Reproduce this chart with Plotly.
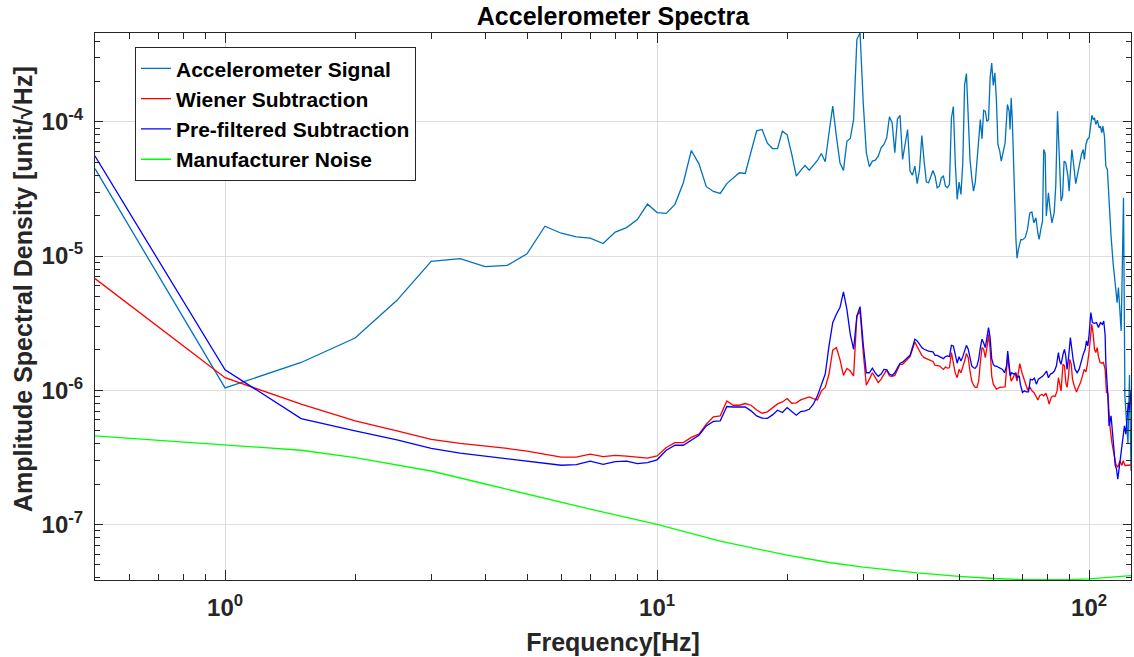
import numpy as np
import plotly.graph_objects as go

# ---------------- data ----------------
acc_f = [0.5, 1, 1.5, 2, 2.5, 3, 3.5, 4, 4.5, 5, 5.5, 6, 6.5, 7, 7.5, 8, 8.5, 9, 9.5, 10,
         10.5, 11, 11.5, 12, 12.5, 13, 13.5, 14, 14.5, 15, 15.5, 16, 16.5, 17, 17.5, 18, 18.5, 19, 19.5, 20,
         20.5, 21, 21.5, 22, 22.5, 23, 23.5, 24, 24.5, 25, 25.5, 26, 26.5, 27, 27.5, 28, 28.5, 29, 29.5, 30,
         30.5, 31, 31.5, 32, 32.5, 33, 33.5, 34, 34.5, 35, 35.5, 36, 36.5, 37, 37.5, 38, 38.5, 39, 39.5, 40,
         40.5, 41, 41.5, 42, 42.5, 43, 43.5, 44, 44.5, 45, 45.5, 46, 46.5, 47, 47.5, 48, 48.5, 49, 49.5, 50,
         50.5, 51, 51.5, 52, 52.5, 53, 53.5, 54, 54.5, 55, 55.5, 56, 56.5, 57, 57.5, 58, 58.5, 59, 59.5, 60,
         60.5, 61, 61.5, 62.1, 62.6, 63.2, 63.9, 64.7, 65.3, 65.6, 66.0, 66.4, 67.1, 67.7, 68.1, 68.6, 69.5,
         70.1, 71.1, 72.0, 72.9, 73.7, 74.5, 75.3, 76.1, 76.6, 77.3, 78.0, 78.5, 79.1, 79.6, 80.5, 81.2, 82.0,
         83.0, 83.7, 84.5, 85.2, 86.1, 86.8, 87.5, 88.3, 89.3, 89.9, 90.5, 91.2, 91.8, 92.5, 93.1, 94.2, 95.2,
         96.0, 96.9, 97.5, 98.3, 99.1, 100.0, 100.7, 101.5, 102.2, 102.9, 103.6, 104.5, 105.5, 106.2, 107.0,
         107.6, 108.5, 109.3, 110.2, 111.2, 112.4, 113.6, 114.9, 116.1, 116.9, 117.8, 118.6, 119.4, 120.1,
         121.0, 122.0, 123.0, 124.0, 125.0]
acc_v = [4.48e-5, 1.04e-6, 1.61e-6, 2.45e-6, 4.68e-6, 9.14e-6, 9.57e-6, 8.34e-6, 8.53e-6, 1.04e-5,
         1.67e-5, 1.48e-5, 1.39e-5, 1.36e-5, 1.24e-5, 1.51e-5, 1.63e-5, 1.87e-5, 2.44e-5, 2.11e-5,
         2.08e-5, 2.43e-5, 3.52e-5, 6.12e-5, 4.87e-5, 3.29e-5, 3.03e-5, 2.93e-5, 3.47e-5, 3.79e-5,
         4.18e-5, 4.13e-5, 6.05e-5, 8.59e-5, 8.78e-5, 6.94e-5, 6.33e-5, 6.33e-5, 8.53e-5, 8.02e-5,
         5.72e-5, 3.94e-5, 4.35e-5, 4.73e-5, 4.37e-5, 4.73e-5, 5.16e-5, 5.82e-5, 5.05e-5, 8.30e-5,
         1.31e-4, 7.83e-5, 4.95e-5, 4.35e-5, 7.18e-5, 7.52e-5, 1.04e-4, 4.11e-4, 4.60e-4, 1.39e-4,
         5.91e-5, 4.64e-5, 5.10e-5, 5.19e-5, 5.56e-5, 6.41e-5, 6.79e-5, 7.62e-5, 1.09e-4, 9.84e-5,
         5.89e-5, 1.05e-4, 1.12e-4, 5.25e-5, 6.79e-5, 8.78e-5, 4.30e-5, 4.01e-5, 4.68e-5, 3.47e-5,
         4.42e-5, 7.92e-5, 5.10e-5, 3.56e-5, 3.52e-5, 3.94e-5, 4.35e-5, 3.94e-5, 3.23e-5, 3.32e-5,
         3.84e-5, 3.94e-5, 3.32e-5, 3.23e-5, 3.42e-5, 1.07e-4, 1.30e-4, 4.95e-5, 2.64e-5, 3.56e-5,
         2.88e-5, 4.95e-5, 1.90e-4, 2.29e-4, 1.17e-4, 5.25e-5, 3.84e-5, 3.05e-5, 3.52e-5, 5.25e-5,
         7.83e-5, 1.04e-4, 7.48e-5, 1.22e-4, 1.20e-4, 1.01e-4, 1.04e-4, 2.13e-4, 2.75e-4, 1.87e-4,
         2.32e-4, 1.47e-4, 6.79e-5, 6.05e-5, 5.10e-5, 5.89e-5, 6.98e-5, 1.35e-4, 1.20e-4, 8.78e-5,
         1.51e-4, 1.04e-4, 3.14e-5, 1.33e-5, 9.66e-6, 1.12e-5, 1.33e-5, 1.32e-5, 1.37e-5, 1.58e-5,
         2.10e-5, 2.13e-5, 1.77e-5, 1.93e-5, 1.48e-5, 1.33e-5, 1.58e-5, 1.82e-5, 6.22e-5, 5.82e-5,
         1.99e-5, 2.96e-5, 2.23e-5, 1.77e-5, 2.10e-5, 3.32e-5, 1.20e-4, 5.56e-5, 2.57e-5, 2.80e-5,
         5.10e-5, 4.95e-5, 3.94e-5, 3.05e-5, 4.42e-5, 6.22e-5, 5.25e-5, 3.94e-5, 3.47e-5, 4.18e-5,
         4.95e-5, 5.72e-5, 6.22e-5, 5.25e-5, 6.79e-5, 7.40e-5, 7.62e-5, 9.29e-5, 1.12e-4, 1.04e-4,
         1.07e-4, 9.57e-5, 1.03e-4, 9.03e-5, 9.29e-5, 8.30e-5, 9.29e-5, 7.83e-5, 4.68e-5, 4.42e-5,
         2.36e-5, 1.41e-5, 8.93e-6, 6.34e-6, 4.50e-6, 5.82e-6, 4.01e-6, 2.77e-6, 8.93e-6, 2.72e-5,
         9.0e-7, 5.5e-7, 4.0e-7, 1.3e-6, 2.5e-7]

low_f = [0.5, 1, 1.5, 2, 2.5, 3, 3.5, 4, 4.5, 5, 5.5, 6, 6.5, 7, 7.5, 8, 8.5, 9, 9.5, 10,
         10.5, 11, 11.5, 12, 12.5, 13, 13.5, 14, 14.5, 15, 15.5, 16, 16.5, 17, 17.5, 18, 18.5, 19, 19.5, 20,
         20.5, 21, 21.5, 22, 22.5, 23, 23.5, 24, 24.5, 25, 25.5, 26, 26.5, 27, 27.5, 28, 28.5, 29, 29.5, 30,
         30.5, 31, 31.5, 32, 32.5, 33, 33.5, 34, 34.5, 35, 35.5, 36, 36.5, 37, 37.5, 38, 38.5, 39, 39.5, 40,
         40.5, 41, 41.5, 42, 42.5, 43.5, 44, 44.5, 45, 46, 46.5, 47, 47.5, 48, 48.5, 49, 49.5, 50,
         50.5, 51, 51.5, 52, 52.5, 53, 53.5, 54, 54.5, 55, 55.5, 56, 56.5, 57, 57.5, 58, 58.5, 59, 59.5, 60,
         60.5, 61]

wiener_v_low = [6.79e-6, 1.24e-6, 7.87e-7, 5.91e-7, 4.97e-7, 4.31e-7, 4.01e-7, 3.85e-7, 3.68e-7, 3.52e-7,
                3.34e-7, 3.17e-7, 3.17e-7, 3.34e-7, 3.20e-7, 3.27e-7, 3.23e-7, 3.17e-7, 3.12e-7, 3.24e-7,
                3.74e-7, 4.07e-7, 4.07e-7, 4.45e-7, 4.70e-7, 5.58e-7, 6.33e-7, 6.44e-7, 8.32e-7, 7.73e-7,
                7.73e-7, 7.96e-7, 7.73e-7, 7.13e-7, 6.74e-7, 6.90e-7, 7.43e-7, 7.91e-7, 8.18e-7, 8.67e-7,
                8.00e-7, 8.05e-7, 8.47e-7, 8.71e-7, 8.91e-7, 8.67e-7, 8.47e-7, 9.89e-7, 1.05e-6, 1.32e-6,
                1.99e-6, 2.08e-6, 1.70e-6, 1.29e-6, 1.45e-6, 1.39e-6, 1.28e-6, 3.57e-6, 3.89e-6, 1.91e-6,
                1.09e-6, 1.21e-6, 1.35e-6, 1.24e-6, 1.14e-6, 1.21e-6, 1.32e-6, 1.42e-6, 1.28e-6, 1.27e-6,
                1.29e-6, 1.43e-6, 1.56e-6, 1.56e-6, 1.64e-6, 1.70e-6, 1.78e-6, 2.02e-6, 2.29e-6, 2.11e-6,
                1.96e-6, 1.82e-6, 1.75e-6, 1.72e-6, 1.68e-6, 1.64e-6, 1.53e-6, 1.52e-6, 1.52e-6, 1.43e-6,
                1.49e-6, 1.46e-6, 1.47e-6, 1.91e-6, 1.61e-6, 1.34e-6, 1.24e-6, 1.43e-6,
                1.35e-6, 1.47e-6, 1.65e-6, 1.88e-6, 1.75e-6, 1.39e-6, 1.17e-6, 1.09e-6, 1.05e-6, 1.05e-6,
                1.17e-6, 1.61e-6, 2.08e-6, 2.02e-6, 1.75e-6, 2.08e-6, 2.61e-6, 2.02e-6, 1.28e-6, 1.11e-6,
                1.05e-6, 1.02e-6]

prefilt_v_low = [5.56e-5, 1.42e-6, 6.15e-7, 4.97e-7, 4.27e-7, 3.68e-7, 3.40e-7, 3.23e-7, 3.09e-7, 2.99e-7,
                 2.86e-7, 2.76e-7, 2.79e-7, 2.96e-7, 2.80e-7, 2.94e-7, 2.96e-7, 2.84e-7, 2.89e-7, 3.03e-7,
                 3.57e-7, 3.89e-7, 3.89e-7, 4.27e-7, 4.62e-7, 5.42e-7, 5.85e-7, 5.91e-7, 7.56e-7, 7.50e-7,
                 7.50e-7, 7.50e-7, 7.02e-7, 6.44e-7, 6.19e-7, 6.17e-7, 6.55e-7, 7.10e-7, 6.82e-7, 7.43e-7,
                 6.93e-7, 6.51e-7, 6.93e-7, 7.02e-7, 7.21e-7, 7.87e-7, 9.08e-7, 1.08e-6, 1.32e-6, 2.14e-6,
                 3.19e-6, 3.68e-6, 4.13e-6, 5.40e-6, 4.01e-6, 2.61e-6, 2.02e-6, 3.57e-6, 4.20e-6, 2.20e-6,
                 1.35e-6, 1.35e-6, 1.46e-6, 1.34e-6, 1.27e-6, 1.32e-6, 1.43e-6, 1.42e-6, 1.32e-6, 1.29e-6,
                 1.35e-6, 1.47e-6, 1.59e-6, 1.62e-6, 1.68e-6, 1.75e-6, 1.82e-6, 2.08e-6, 2.40e-6, 2.33e-6,
                 2.20e-6, 2.08e-6, 2.02e-6, 1.99e-6, 1.96e-6, 1.93e-6, 1.82e-6, 1.82e-6, 1.78e-6, 1.72e-6,
                 1.78e-6, 1.80e-6, 1.78e-6, 2.16e-6, 2.14e-6, 1.80e-6, 1.59e-6, 1.78e-6,
                 1.65e-6, 1.78e-6, 1.96e-6, 2.16e-6, 2.02e-6, 1.75e-6, 1.52e-6, 1.47e-6, 1.46e-6, 1.52e-6,
                 1.70e-6, 2.08e-6, 2.40e-6, 2.25e-6, 2.08e-6, 2.47e-6, 2.93e-6, 2.47e-6, 1.72e-6, 1.56e-6,
                 1.51e-6, 1.51e-6]

wiener_f_high = [62.1, 63.0, 63.9, 64.4, 64.8, 65.3, 66.0, 66.7, 67.4, 68.1, 69.1, 69.9, 70.6, 71.4, 72.1,
                 72.9, 73.7, 74.5, 75.3, 76.1, 76.9, 77.7, 78.5, 79.4, 80.2, 80.8, 81.7, 82.5, 83.4, 84.3,
                 84.9, 85.5, 86.1, 87.0, 87.7, 88.3, 88.9, 89.6, 90.2, 90.9, 91.5, 92.5, 93.5, 94.4, 95.5,
                 96.5, 97.4, 98.3, 99.1, 100.0, 100.7, 101.4, 102.2, 102.9, 103.6, 104.4, 105.1, 106.0, 107.0,
                 107.9, 108.9, 109.7, 110.5, 111.7, 112.9, 114.1, 115.3, 116.5, 117.8, 119.1, 119.9, 121.1,
                 123.8, 125.0]
wiener_v_high = [1.05e-6, 1.05e-6, 1.06e-6, 1.43e-6, 1.82e-6, 1.43e-6, 1.17e-6, 1.24e-6, 1.35e-6, 1.17e-6,
                 1.58e-6, 1.35e-6, 1.24e-6, 1.11e-6, 1.00e-6, 1.06e-6, 9.89e-7, 9.62e-7, 9.08e-7, 8.47e-7,
                 9.15e-7, 9.30e-7, 9.08e-7, 9.50e-7, 8.67e-7, 7.87e-7, 8.83e-7, 9.08e-7, 9.00e-7, 9.89e-7,
                 1.24e-6, 1.08e-6, 9.89e-7, 1.56e-6, 1.52e-6, 1.14e-6, 1.05e-6, 1.28e-6, 1.70e-6, 1.56e-6,
                 1.21e-6, 1.06e-6, 9.71e-7, 1.05e-6, 1.14e-6, 1.28e-6, 1.43e-6, 1.37e-6, 1.56e-6, 1.96e-6,
                 2.69e-6, 3.10e-6, 2.61e-6, 2.02e-6, 1.91e-6, 2.08e-6, 1.78e-6, 1.61e-6, 1.59e-6, 1.61e-6,
                 1.43e-6, 9.62e-7, 9.50e-7, 5.42e-7, 4.07e-7, 3.48e-7, 2.81e-7, 2.66e-7, 2.98e-7, 2.75e-7,
                 2.98e-7, 2.75e-7, 2.75e-7, 2.77e-7]

prefilt_f_high = [62.1, 63.0, 63.7, 64.4, 64.8, 65.3, 65.7, 66.2, 66.9, 67.7, 68.1, 68.9, 69.3, 70.1, 70.8,
                  71.6, 72.4, 73.1, 73.9, 74.7, 75.5, 76.3, 77.2, 78.0, 78.8, 79.7, 80.5, 81.4, 82.2, 83.1,
                  84.0, 84.9, 85.5, 86.1, 87.0, 87.7, 88.3, 88.9, 89.6, 90.5, 91.2, 91.8, 92.8, 93.8, 94.8,
                  95.8, 96.9, 97.9, 98.6, 99.3, 100.0, 100.9, 101.8, 102.9, 104.0, 105.1, 106.2, 107.3, 108.1,
                  108.9, 109.3, 110.5, 111.2, 112.4, 113.2, 114.1, 114.9, 115.7, 116.5, 117.4, 118.6, 119.4,
                  120.7, 121.6, 122.4, 123.2, 124.1, 125.0]
prefilt_v_high = [1.47e-6, 1.43e-6, 1.35e-6, 1.52e-6, 1.96e-6, 1.52e-6, 1.28e-6, 1.35e-6, 1.32e-6, 1.34e-6,
                  1.24e-6, 1.28e-6, 1.11e-6, 9.62e-7, 9.89e-7, 9.71e-7, 9.71e-7, 1.21e-6, 1.19e-6, 1.23e-6,
                  1.11e-6, 1.21e-6, 1.24e-6, 1.27e-6, 1.32e-6, 1.39e-6, 1.24e-6, 1.32e-6, 1.34e-6, 1.39e-6,
                  1.52e-6, 1.91e-6, 1.65e-6, 1.56e-6, 1.85e-6, 2.02e-6, 1.80e-6, 1.43e-6, 1.75e-6, 2.47e-6,
                  2.02e-6, 1.70e-6, 1.43e-6, 1.35e-6, 1.43e-6, 1.65e-6, 1.85e-6, 2.02e-6, 2.33e-6, 2.14e-6,
                  2.61e-6, 3.79e-6, 3.19e-6, 3.15e-6, 3.19e-6, 2.93e-6, 3.19e-6, 3.10e-6, 3.28e-6, 2.57e-6,
                  1.61e-6, 9.08e-7, 5.42e-7, 6.44e-7, 5.14e-7, 3.68e-7, 2.75e-7, 2.58e-7, 2.17e-7, 2.66e-7,
                  3.55e-7, 4.27e-7, 5.42e-7, 4.70e-7, 6.81e-7, 8.11e-7, 7.10e-7, 1.0e-6]

noise_f = [0.5, 1, 1.5, 2, 3, 4, 5, 7, 10, 14, 20, 25, 30, 40, 50, 60, 70, 80, 90, 100, 110, 125]
noise_v = [4.57e-7, 3.90e-7, 3.57e-7, 3.15e-7, 2.50e-7, 2.00e-7, 1.68e-7, 1.30e-7, 1.00e-7, 7.5e-8,
           5.9e-8, 5.2e-8, 4.8e-8, 4.35e-8, 4.1e-8, 3.95e-8, 3.88e-8, 3.87e-8, 3.88e-8, 3.92e-8, 4.0e-8, 4.15e-8]

series_names = ["Accelerometer Signal", "Wiener Subtraction", "Pre-filtered Subtraction", "Manufacturer Noise"]
series_colors = ["#0072BD", "#FF0000", "#0000FF", "#00FF00"]

x_major = [1, 10, 100]
x_major_text = ["10<sup>0</sup>", "10<sup>1</sup>", "10<sup>2</sup>"]
y_major = [1e-7, 1e-6, 1e-5, 1e-4]
y_major_text = ["10<sup>-7</sup>", "10<sup>-6</sup>", "10<sup>-5</sup>", "10<sup>-4</sup>"]

x_lim = [0.5, 125]
y_lim = [3.85e-8, 4.6e-4]

title_text = "Accelerometer Spectra"
x_title = "Frequency[Hz]"
y_title = "Amplitude Spectral Density [unit/√Hz]"

# ---------------- figure ----------------
wiener_f = low_f + wiener_f_high
wiener_v = wiener_v_low + wiener_v_high
prefilt_f = low_f + prefilt_f_high
prefilt_v = prefilt_v_low + prefilt_v_high

all_x = [acc_f, wiener_f, prefilt_f, noise_f]
all_y = [acc_v, wiener_v, prefilt_v, noise_v]

fig = go.Figure()
for xs, ys, nm, col in zip(all_x, all_y, series_names, series_colors):
    fig.add_trace(go.Scatter(x=xs, y=ys, mode="lines", name="<b>%s</b>" % nm,
                             line=dict(color=col, width=1.3)))

x_minor = [k * 10.0 ** d for d in range(-1, 3) for k in range(2, 10) if x_lim[0] <= k * 10.0 ** d <= x_lim[1]]
y_minor = [k * 10.0 ** d for d in range(-9, -3) for k in range(2, 10) if y_lim[0] <= k * 10.0 ** d <= y_lim[1]]

axis_col = "#262626"
grid_col = "#dedede"

W, H = 1134, 657
ML, MR, MT, MB = 95, 3, 33, 77
plot_w = W - ML - MR
plot_h = H - MT - MB

fig.update_layout(
    width=W, height=H,
    margin=dict(l=ML, r=MR, t=MT, b=MB, autoexpand=False),
    paper_bgcolor="white", plot_bgcolor="white",
    font=dict(family="Liberation Sans, Arial, Helvetica, sans-serif", color="#000000"),
    title=dict(text="<b>%s</b>" % title_text, x=0.5, xref="paper", xanchor="center",
               y=1 - 16 / H, yref="container", yanchor="middle", font=dict(size=25, color="#000000")),
    showlegend=True,
    legend=dict(x=0.0386, y=0.974, xanchor="left", yanchor="top", bgcolor="white",
                bordercolor=axis_col, borderwidth=1, font=dict(size=21, color="#000000"),
                itemwidth=30, tracegroupgap=0),
)

# y-axis title as a rotated annotation so it can sit close to the tick labels like the reference
fig.add_annotation(text="<b>%s</b>" % y_title, textangle=-90, showarrow=False,
                   xref="paper", yref="paper", x=(23 - ML) / plot_w, y=1 - (289 - MT) / plot_h,
                   xanchor="center", yanchor="middle", font=dict(size=25, color="#262626"))

fig.update_xaxes(
    type="log", range=[np.log10(x_lim[0]), np.log10(x_lim[1])], automargin=False,
    tickmode="array", tickvals=x_major, ticktext=["<b>%s</b>" % t for t in x_major_text],
    ticks="inside", ticklen=10, tickwidth=1, tickcolor=axis_col, ticklabelstandoff=6,
    showline=True, linecolor=axis_col, linewidth=1, mirror="ticks",
    showgrid=True, gridcolor=grid_col, gridwidth=1, zeroline=False,
    minor=dict(tickmode="array", tickvals=x_minor, ticks="inside", ticklen=6, tickwidth=1,
               tickcolor=axis_col, showgrid=False),
    tickfont=dict(size=24, color="#262626"),
    title=dict(text="<b>%s</b>" % x_title, font=dict(size=25, color="#262626"), standoff=13),
)
fig.update_yaxes(
    type="log", range=[np.log10(y_lim[0]), np.log10(y_lim[1])], automargin=False,
    tickmode="array", tickvals=y_major, ticktext=["<b>%s</b>" % t for t in y_major_text],
    ticks="inside", ticklen=8, tickwidth=1, tickcolor=axis_col, ticklabelstandoff=6,
    showline=True, linecolor=axis_col, linewidth=1, mirror="ticks",
    showgrid=True, gridcolor=grid_col, gridwidth=1, zeroline=False,
    minor=dict(tickmode="array", tickvals=y_minor, ticks="inside", ticklen=5, tickwidth=1,
               tickcolor=axis_col, showgrid=False),
    tickfont=dict(size=24, color="#262626"),
)

# remove the browser's default 8px page margin so the figure fills the window exactly
fig.write_html("out.html", config={"displayModeBar": False},
               post_script="document.body.style.margin='0px';")
